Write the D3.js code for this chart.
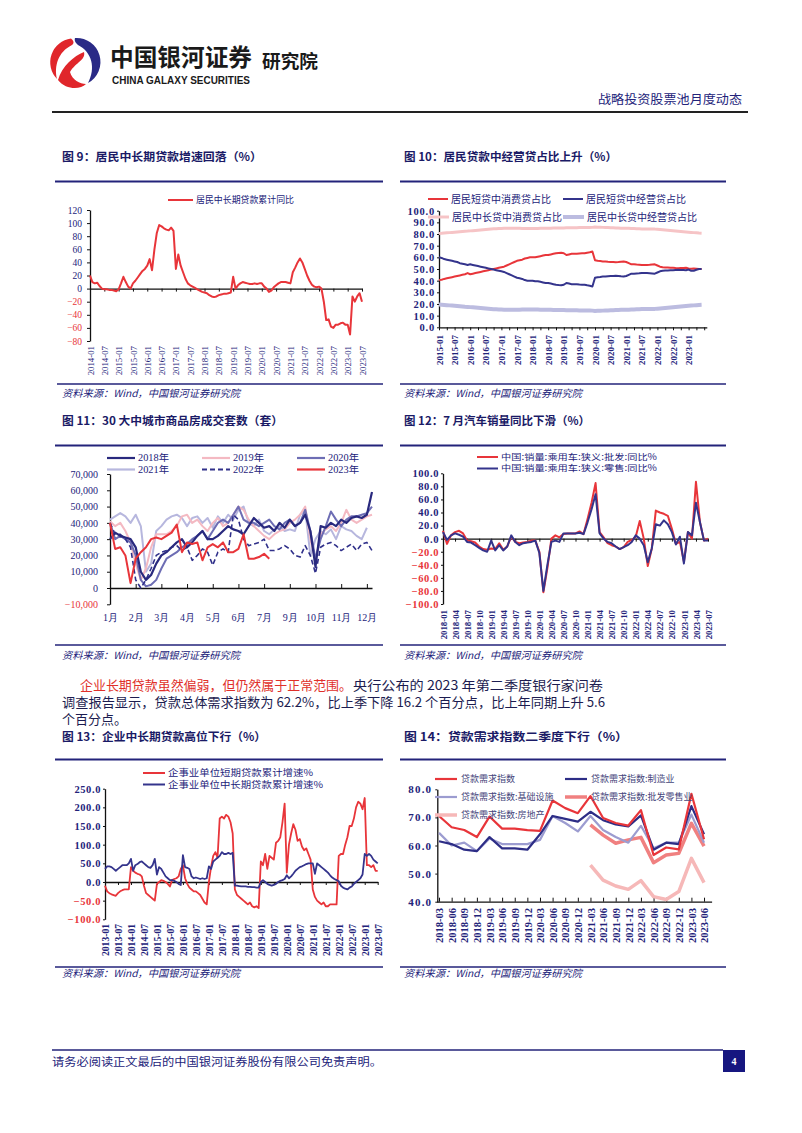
<!DOCTYPE html>
<html><head><meta charset="utf-8">
<script src="https://cdn.jsdelivr.net/npm/d3@7"></script>
<style>body{margin:0;background:#fff}svg{display:block}</style>
</head><body>
<svg id="page" width="802" height="1133"></svg>
<script>
// ---------------- DATA ----------------
// Fig 9: 居民中长期贷款累计同比, monthly 2014-01..2023-07
const c9Labels = ["2014-01","2014-07","2015-01","2015-07","2016-01","2016-07","2017-01","2017-07","2018-01","2018-07","2019-01","2019-07","2020-01","2020-07","2021-01","2021-07","2022-01","2022-07","2023-01","2023-07"];
const c9Values = [20,10,8,9,4,0,-1,-1,-2,-2,-3,-4,
  -1,8,18,10,3,0,8,12,17,22,27,30,
  35,45,28,60,85,97,95,92,90,89,93,88,
  30,52,35,25,15,8,5,3,1,-1,-3,-5,
  -6,-7,-10,-12,-13,-12,-10,-9,-8,-8,-7,-6,
  18,0,5,8,10,9,8,7,7,8,7,8,
  8,3,0,-5,-3,2,5,8,10,10,10,9,
  8,25,32,40,46,40,30,20,12,6,3,2,
  3,0,-20,-48,-47,-58,-60,-55,-55,-53,-52,-55,
  -55,-70,-12,-20,-12,-7,-20];
const c9Y = [-80,-60,-40,-20,0,20,40,60,80,100,120];

// Fig 10: monthly 2015-01..2023-06
const c10Labels = ["2015-01","2015-07","2016-01","2016-07","2017-01","2017-07","2018-01","2018-07","2019-01","2019-07","2020-01","2020-07","2021-01","2021-07","2022-01","2022-07","2023-01"];
const c10ShortConsumer = [40.5,40.8,41.5,42,42.5,43,43.5,44,44.5,45,45.5,46.5,
  45.5,46,46.5,47,47.5,48,48.5,49,49.5,50,50.5,51,
  51.5,52,53,54,55,56,57,57.5,58,59,59.5,60,
  60,60,60.5,61,61.5,62,62,62.5,63,63.5,63.8,64,
  63.5,62,62.5,63,63,63,63.3,63.5,63.5,64,64.3,65,
  57.5,57,56.8,56.5,56.5,56.2,56,56,55.8,56,56.3,56.5,
  56,55,54,54,53.8,53.7,53.5,53.5,53.5,53.6,53.8,54,
  53,52,51.5,51.3,51.2,51,51,50.8,50.7,50.8,50.8,51,
  50.5,50.3,50.5,50.3,50,50];
const c10ShortBusiness = [60,59.5,58.5,58,57.5,57,56.5,56,55,54.5,54,53.5,
  54,53.5,53,52.5,52,51.5,51,50.5,50,49.5,49,48.5,
  48,47.5,46.5,45.5,44.5,43.5,42.5,42,41.5,40.5,40,40,
  40,39.5,39.5,39,38.5,38,38,37.5,37,36.5,36.2,36,
  36.5,38,37.5,37,37,37,36.7,36.5,36.5,36,35.7,35,
  42.5,43,43.2,43.5,43.5,43.8,44,44,44.2,44,43.7,43.5,
  44,45,46,46,46.2,46.3,46.5,46.5,46.5,46.4,46.2,46,
  47,48,48.5,48.7,48.8,49,49,49.2,49.3,49.2,49.2,49,
  49.5,48.5,48.5,49.3,50,50];
const c10LongConsumer = [80.5,80.6,80.8,81,81.2,81.4,81.6,81.8,82,82.2,82.4,82.5,
  82.7,82.9,83.1,83.3,83.5,83.7,83.9,84.1,84.3,84.5,84.6,84.7,
  84.8,84.9,85,85,85,85,84.9,84.9,84.8,84.8,84.8,84.8,
  84.8,84.8,84.8,84.9,84.9,85,85,85,85.1,85.1,85.2,85.2,
  85.2,85.3,85.3,85.3,85.4,85.4,85.5,85.5,85.5,85.6,85.6,85.7,
  86,85.9,85.8,85.7,85.6,85.5,85.4,85.3,85.2,85.1,85,85,
  85,84.9,84.8,84.7,84.6,84.5,84.4,84.4,84.3,84.3,84.2,84.2,
  84,83.8,83.6,83.4,83.2,83,82.8,82.6,82.4,82.2,82,81.8,
  81.6,81.4,81.2,81,80.8,80.7];
const c10LongBusiness = [19.5,19.4,19.2,19,18.8,18.6,18.4,18.2,18,17.8,17.6,17.5,
  17.3,17.1,16.9,16.7,16.5,16.3,16.1,15.9,15.7,15.5,15.4,15.3,
  15.2,15.1,15,15,15,15,15.1,15.1,15.2,15.2,15.2,15.2,
  15.2,15.2,15.2,15.1,15.1,15,15,15,14.9,14.9,14.8,14.8,
  14.8,14.7,14.7,14.7,14.6,14.6,14.5,14.5,14.5,14.4,14.4,14.3,
  14,14.1,14.2,14.3,14.4,14.5,14.6,14.7,14.8,14.9,15,15,
  15,15.1,15.2,15.3,15.4,15.5,15.6,15.6,15.7,15.7,15.8,15.8,
  16,16.2,16.4,16.6,16.8,17,17.2,17.4,17.6,17.8,18,18.2,
  18.4,18.6,18.8,19,19.2,19.3];
const c10Y = [0,10,20,30,40,50,60,70,80,90,100];

// Fig 11: weekly, thousands of units
const c11Labels = ["1月","2月","3月","4月","5月","6月","7月","9月","10月","11月","12月"];
const c11Unit = 1000;
const c11Y2018 = [30,34,32,31,30,25,10,5,8,15,20,22,25,28,30,25,28,32,35,30,30,32,35,38,36,35,33,38,43,40,37,38,35,40,37,42,38,40,45,35,13,38,37,40,38,42,40,43,44,43,45,59];
const c11Y2019 = [41,38,40,35,28,15,5,12,25,33,33,33,35,38,44,45,40,42,38,35,40,43,38,40,45,50,48,42,38,35,32,30,33,35,36,40,42,45,50,30,17,33,36,38,35,40,48,42,40,42,44,45];
const c11Y2020 = [40,30,32,30,28,20,5,1,2,5,12,18,20,22,25,27,30,32,35,30,35,40,42,40,45,50,42,40,40,38,40,42,38,36,40,42,38,40,48,35,18,30,38,47,42,38,42,44,44,45,46,50];
const c11Y2021 = [42,44,46,44,40,45,38,10,15,35,38,42,44,45,43,38,43,44,40,43,37,44,40,45,42,48,50,40,38,42,35,33,36,38,35,36,35,45,48,20,30,35,33,36,30,38,36,35,32,30,37];
const c11Y2022 = [40,33,33,30,25,5,0,5,12,20,22,23,25,26,23,25,17,20,24,22,14,22,24,22,45,42,30,26,27,28,30,23,23,24,26,24,20,19,26,20,9,25,27,28,26,23,25,27,23,27,28,23];
const c11Y2023 = [40,24,25,20,3,18,22,25,30,31,30,32,34,39,22,28,27,28,17,25,27,25,28,22,22,24,33,18,18,19,21,18];
const c11Y = [-10,0,10,20,30,40,50,60,70];

// Fig 12: monthly 2018-01..2023-07
const c12Labels = ["2018-01","2018-04","2018-07","2018-10","2019-01","2019-04","2019-07","2019-10","2020-01","2020-04","2020-07","2020-10","2021-01","2021-04","2021-07","2021-10","2022-01","2022-04","2022-07","2022-10","2023-01","2023-04","2023-07"];
const c12Wholesale = [12,-8,5,10,12,8,-3,-4,-6,-12,-16,-17,
  -15,-16,-7,-17,-12,3,-5,-7,-6,-5,-3,-3,
  -20,-82,-45,0,5,2,7,8,8,8,11,7,
  30,55,85,10,2,-7,-10,-12,-16,-13,-5,-2,
  3,27,0,-42,-15,43,40,38,35,15,-8,-5,
  -35,10,0,87,25,-3,0];
const c12Retail = [10,-2,5,8,6,3,-5,-6,-10,-14,-18,-20,
  -3,-18,-10,-18,-12,5,-5,-10,-7,-6,-5,-3,
  -22,-80,-40,-5,-3,-5,8,8,8,8,9,7,
  25,45,68,8,0,-5,-7,-12,-16,-13,-10,-5,
  5,0,-10,-36,-15,22,20,28,22,10,-9,3,
  -38,10,5,55,25,-3,-3];
const c12Y = [-100,-80,-60,-40,-20,0,20,40,60,80,100];

// Fig 13: monthly 2013-01..2023-07
const c13Labels = ["2013-01","2013-07","2014-01","2014-07","2015-01","2015-07","2016-01","2016-07","2017-01","2017-07","2018-01","2018-07","2019-01","2019-07","2020-01","2020-07","2021-01","2021-07","2022-01","2022-07","2023-01","2023-07"];
const c13Short = [-10,-25,-30,-33,-35,-37,-30,-25,-22,-20,-20,-20,
  40,30,25,22,20,15,-10,-30,-35,-40,-45,-50,
  -5,0,5,3,0,-5,-12,5,8,10,15,35,
  45,10,-5,-15,-20,-25,-25,-30,-35,-45,-55,-60,
  0,40,70,80,65,170,175,170,180,175,160,130,
  -20,-35,-40,-45,-50,-55,-60,-55,-65,-68,-65,-70,
  55,45,75,35,70,65,60,105,110,120,160,210,
  25,100,130,155,140,110,115,95,85,90,75,60,
  -20,-40,-50,-55,-60,-55,-65,-65,-60,-60,-60,-60,
  70,75,75,100,120,150,150,170,200,215,210,195,
  225,45,45,40,45,30,30];
const c13Long = [35,42,42,40,35,30,35,40,45,45,45,50,
  62,30,45,48,53,55,50,45,40,38,45,62,
  20,40,35,25,15,10,5,5,3,0,-5,-8,
  72,40,38,35,15,10,12,10,8,10,8,10,
  42,35,55,60,65,70,80,75,75,78,75,78,
  -10,-10,-11,-12,-12,-12,-13,-13,-14,-14,-15,-15,
  0,5,0,-5,-8,-10,-8,-5,0,3,5,8,
  18,10,15,22,30,35,40,42,45,48,50,50,
  50,22,50,45,40,35,30,25,18,12,8,5,
  2,-10,-15,-18,-20,-15,-12,-5,0,5,10,20,
  75,70,75,70,60,55,50];
const c13Y = [-100,-50,0,50,100,150,200,250];

// Fig 14: quarterly 2018-03..2023-06
const c14Labels = ["2018-03","2018-06","2018-09","2018-12","2019-03","2019-06","2019-09","2019-12","2020-03","2020-06","2020-09","2020-12","2021-03","2021-06","2021-09","2021-12","2022-03","2022-06","2022-09","2022-12","2023-03","2023-06"];
const c14Total = [70.5,66.5,65.5,63,70.3,66,66,65.5,65.2,76,73.3,71.5,77.6,69.8,68,67.1,72.6,56.6,59.3,58.6,78.4,62.2];
const c14Mfg = [61.5,60.5,58.5,58,63,59,59,58.5,64,70.5,69.5,68.5,72,69,67.5,66.8,70.7,58.5,61,60.5,74,64];
const c14Infra = [64.5,60,61,58,62.5,60.5,60.5,60.5,62,70.5,68,65,70.5,65.5,63,61,67,59,61,61,71,61];
const c14Retail = [67.3,63.7,60.8,62,62.9,53.9,56.6,57.2,67.9,59.8];   // from 2021-03
const c14RealEstate = [53,47.7,45.6,44.4,47.5,41.8,40.8,43.6,55.4,46.8]; // from 2021-03
const c14Y = [40,50,60,70,80];

// ---------------- STYLE ----------------
const NAVY = "#23237a", RED = "#e8353a", INK = "#111";
const SERIF = "'Liberation Serif','Times New Roman',serif";
const CJK = "'Noto Sans CJK SC','Noto Sans',sans-serif";
const svg = d3.select("#page");

// ---------------- HELPERS ----------------
function text(x, y, s, o = {}) {
  const t = svg.append("text").attr("x", x).attr("y", y).attr("dy", o.dy ?? "0.35em")
    .attr("font-family", o.ff || CJK).attr("font-size", o.fs || 12)
    .attr("font-weight", o.fw || "normal").attr("fill", o.fill || NAVY)
    .attr("text-anchor", o.anchor || "start").text(s);
  if (o.italic) t.attr("font-style", "italic");
  if (o.tl) t.attr("textLength", o.tl).attr("lengthAdjust", "spacingAndGlyphs");
  return t;
}
function hline(x1, x2, y, color, w) {
  svg.append("line").attr("x1", x1).attr("x2", x2).attr("y1", y).attr("y2", y)
    .attr("stroke", color).attr("stroke-width", w);
}
function yAxis(x0, y, ticks, fmt, o) {
  const g = svg.append("g").attr("transform", `translate(${x0},0)`)
    .call(d3.axisLeft(y).tickValues(ticks).tickFormat(fmt).tickSizeInner(o.tick ?? 3).tickSizeOuter(0).tickPadding(o.pad ?? 3));
  g.select(".domain").attr("stroke", INK).attr("stroke-width", 1.3);
  g.selectAll(".tick line").attr("stroke", INK);
  g.selectAll(".tick text").attr("font-family", SERIF).attr("font-size", o.fs)
    .attr("font-weight", o.fw || "normal").attr("letter-spacing", o.ls || 0)
    .attr("fill", d => (o.negRed && d < 0) ? RED : NAVY);
}
function xLine(x, yPos, ticks, tickLen) {
  const g = svg.append("g").attr("transform", `translate(0,${yPos})`)
    .call(d3.axisBottom(x).tickValues(ticks).tickFormat("").tickSizeInner(tickLen).tickSizeOuter(0));
  g.select(".domain").attr("stroke", INK).attr("stroke-width", 1.3);
  g.selectAll(".tick line").attr("stroke", INK);
}
function xLabels(x, yTop, idx, labels, fs, rotate, fw) {
  const g = svg.append("g").attr("transform", `translate(0,${yTop})`)
    .call(d3.axisBottom(x).tickValues(idx).tickFormat((d, i) => labels[i]).tickSize(0));
  g.select(".domain").remove();
  const t = g.selectAll(".tick text").attr("font-family", SERIF).attr("font-size", fs)
    .attr("font-weight", fw || "normal").attr("fill", NAVY);
  if (rotate) t.attr("transform", "rotate(-90)").attr("x", 0).attr("y", 0).attr("dy", "0.35em").attr("text-anchor", "end");
  else t.attr("y", 0).attr("dy", "0.35em");
}
function series(x, y, values, start, st) {
  const line = d3.line().x((d, i) => x(i + start)).y(d => y(d));
  svg.append("path").datum(values).attr("d", line).attr("fill", "none")
    .attr("stroke", st.color).attr("stroke-width", st.w || 2)
    .attr("stroke-dasharray", st.dash || null).attr("stroke-linejoin", "round");
}
function legend(x1, x2, y, label, st, to = {}) {
  svg.append("line").attr("x1", x1).attr("x2", x2).attr("y1", y).attr("y2", y)
    .attr("stroke", st.color).attr("stroke-width", st.lw || st.w || 2).attr("stroke-dasharray", st.dash || null);
  text(x2 + (to.gap ?? 3), y, label, { fs: to.fs || 9.5, ff: to.ff || CJK, fill: to.fill || NAVY, tl: to.tl });
}
const idxEvery = (n, step) => d3.range(n).map(i => i * step);

// ---------------- PAGE HEADER ----------------
svg.append("path").attr("fill", "#2a2a86")
  .attr("d", "M75 38 A24 24 0 0 1 88 83 C96 68 92 52 78 45 C76 43 74 41 75 38 Z");
svg.append("path").attr("fill", "#e0262b")
  .attr("d", "M71 38.5 A24 24 0 0 0 57 79 C54 66 58 52 72 45 C75 43 73 40 71 38.5 Z");
svg.append("path").attr("fill", "#e0262b")
  .attr("d", "M58 80 C66 90 80 90 86 84 C80 84 72 80 70 72 C76 62 86 60 84 52 C74 56 62 66 58 80 Z");
text(110, 58, "中国银河证券", { fs: 24, fw: "bold", fill: "#1a1a1a", tl: 142 });
text(112, 80, "CHINA GALAXY SECURITIES", { fs: 10, fw: "bold", ff: "'Liberation Sans',Arial,sans-serif", fill: "#1a1a1a", tl: 138 });
text(262, 62, "研究院", { fs: 18, fw: "bold", fill: "#1a1a1a", tl: 56 });
text(742, 100, "战略投资股票池月度动态", { fs: 12.5, fill: NAVY, anchor: "end", tl: 144 });
hline(52, 748, 112, "#222", 2);

// ---------------- SECTION TITLES / RULES ----------------
const SRC = "资料来源：Wind，中国银河证券研究院";
const TITLE_COLOR = "#1a1a66";
text(62, 157, "图 9：居民中长期贷款增速回落（%）", { fs: 11.5, fw: "bold", fill: TITLE_COLOR, tl: 200 });
text(404, 157, "图 10：居民贷款中经营贷占比上升（%）", { fs: 11.5, fw: "bold", fill: TITLE_COLOR, tl: 213 });
hline(55, 383, 181.5, NAVY, 1.8); hline(400, 726, 181.5, NAVY, 1.8);
hline(57, 383, 384, NAVY, 1.5); hline(400, 726, 384, NAVY, 1.5);
text(62, 393, SRC, { fs: 10, italic: true, tl: 178 });
text(404, 393, SRC, { fs: 10, italic: true, tl: 178 });

text(62, 421, "图 11：30 大中城市商品房成交套数（套）", { fs: 11.5, fw: "bold", fill: TITLE_COLOR, tl: 221 });
text(404, 421, "图 12：7 月汽车销量同比下滑（%）", { fs: 11.5, fw: "bold", fill: TITLE_COLOR, tl: 186 });
hline(55, 383, 445.5, NAVY, 1.8); hline(400, 726, 445.5, NAVY, 1.8);
hline(55, 383, 645, NAVY, 1.5); hline(400, 726, 645, NAVY, 1.5);
text(62, 655, SRC, { fs: 10, italic: true, tl: 178 });
text(404, 655, SRC, { fs: 10, italic: true, tl: 178 });

// paragraph
text(80, 685, "企业长期贷款虽然偏弱，但仍然属于正常范围。", { fs: 13, fill: "#e0302a", tl: 272 });
text(353, 685, "央行公布的 2023 年第二季度银行家问卷", { fs: 13, fill: "#1c1c50", tl: 250 });
text(62, 702, "调查报告显示，贷款总体需求指数为 62.2%，比上季下降 16.2 个百分点，比上年同期上升 5.6", { fs: 13, fill: "#1c1c50", tl: 543 });
text(62, 719, "个百分点。", { fs: 13, fill: "#1c1c50", tl: 65 });

text(62, 737, "图 13：企业中长期贷款高位下行（%）", { fs: 11.5, fw: "bold", fill: TITLE_COLOR, tl: 204 });
text(404, 737, "图 14：贷款需求指数二季度下行（%）", { fs: 11.5, fw: "bold", fill: TITLE_COLOR, tl: 224 });
hline(55, 383, 759.5, NAVY, 1.8); hline(400, 726, 759.5, NAVY, 1.8);
hline(55, 383, 967, NAVY, 1.5); hline(400, 726, 967, NAVY, 1.5);
text(62, 973, SRC, { fs: 10, italic: true, tl: 178 });
text(404, 973, SRC, { fs: 10, italic: true, tl: 178 });

// footer
hline(52, 723, 1050, NAVY, 1.5);
text(52, 1062, "请务必阅读正文最后的中国银河证券股份有限公司免责声明。", { fs: 11, fill: NAVY, tl: 330 });
svg.append("rect").attr("x", 723).attr("y", 1050).attr("width", 22).attr("height", 22).attr("fill", "#161680");
text(734, 1061, "4", { fs: 10, fw: "bold", fill: "#fff", anchor: "middle", ff: SERIF });

// ---------------- FIG 9 ----------------
{
  const x = d3.scaleLinear().domain([0, 114]).range([90, 362]);
  const y = d3.scaleLinear().domain([-80, 120]).range([341, 210]);
  xLine(x, y(0), idxEvery(20, 6), 3);
  yAxis(90, y, c9Y, d3.format("d"), { fs: 9.5, pad: 5, negRed: true });
  xLabels(x, 346, idxEvery(20, 6), c9Labels, 8.8, true);
  series(x, y, c9Values, 0, { color: RED, w: 2 });
  legend(168, 193, 200, "居民中长期贷款累计同比", { color: RED, w: 2 }, { tl: 98 });
}

// ---------------- FIG 10 ----------------
{
  const x = d3.scaleLinear().domain([0, 103]).range([439, 706.8]);
  const y = d3.scaleLinear().domain([0, 100]).range([327.3, 210.7]);
  xLine(x, y(0), idxEvery(35, 3), 3);
  yAxis(439, y, c10Y, d3.format(".1f"), { fs: 10.5, fw: "bold", ls: 0.8, pad: 2, tick: 2 });
  xLabels(x, 335, idxEvery(17, 6), c10Labels, 9, true, "bold");
  series(x, y, c10LongConsumer, 0, { color: "#f6c4c6", w: 3 });
  series(x, y, c10LongBusiness, 0, { color: "#bcbce0", w: 4 });
  series(x, y, c10ShortConsumer, 0, { color: RED, w: 2 });
  series(x, y, c10ShortBusiness, 0, { color: "#34348c", w: 2 });
  legend(428, 448, 199, "居民短贷中消费贷占比", { color: RED, w: 2 }, { tl: 100, fs: 10 });
  legend(563, 583, 199, "居民短贷中经营贷占比", { color: "#34348c", w: 2 }, { tl: 100, fs: 10 });
  legend(428, 449, 217, "居民中长贷中消费贷占比", { color: "#f6c4c6", w: 3 }, { tl: 110, fs: 10 });
  legend(563, 584, 217, "居民中长贷中经营贷占比", { color: "#bcbce0", w: 4 }, { tl: 110, fs: 10 });
}

// ---------------- FIG 11 ----------------
{
  const x = d3.scaleLinear().domain([0, 51]).range([110, 372]);
  const y = d3.scaleLinear().domain([-10, 70]).range([604.3, 474]);
  xLine(x, y(0), idxEvery(11, 5), -4);
  yAxis(110, y, c11Y, d => d3.format(",")(d * c11Unit), { fs: 10, pad: 9, negRed: true });
  xLabels(x, 617, idxEvery(11, 5), c11Labels, 10, false);
  const st = [
    { v: c11Y2021, color: "#b7b7de", w: 2, name: "2021年" },
    { v: c11Y2019, color: "#f4b9c2", w: 2, name: "2019年" },
    { v: c11Y2020, color: "#6d6db4", w: 2, name: "2020年" },
    { v: c11Y2022, color: "#30308a", w: 1.6, dash: "5,3", name: "2022年" },
    { v: c11Y2018, color: "#29297e", w: 2.2, name: "2018年" },
    { v: c11Y2023, color: RED, w: 2, name: "2023年" }
  ];
  st.forEach(s => series(x, y, s.v, 0, s));
  const cols = [107, 202, 297];
  const order = [4, 1, 2, 0, 3, 5];
  order.forEach((k, j) => {
    const s = st[k];
    const c = cols[j % 3], ry = j < 3 ? 458 : 469.5;
    legend(c, c + 28, ry, s.name, { color: s.color, w: 2.2, dash: s.dash }, { fs: 9.5, ff: SERIF + ",'Noto Sans CJK SC'", tl: 31 });
  });
}

// ---------------- FIG 12 ----------------
{
  const x = d3.scaleLinear().domain([0, 66]).range([443, 708]);
  const y = d3.scaleLinear().domain([-100, 100]).range([604, 473.3]);
  xLine(x, y(0), idxEvery(23, 3), 3);
  yAxis(443, y, c12Y, d3.format(".1f"), { fs: 10.5, fw: "bold", ls: 0.6, pad: 2, tick: 2, negRed: true });
  xLabels(x, 610, idxEvery(23, 3), c12Labels, 8.8, true, "bold");
  series(x, y, c12Wholesale, 0, { color: RED, w: 2 });
  series(x, y, c12Retail, 0, { color: "#34348c", w: 2 });
  legend(477, 498, 457, "中国:销量:乘用车:狭义:批发:同比%", { color: RED, w: 2 }, { fs: 8.5, tl: 156 });
  legend(477, 498, 468.5, "中国:销量:乘用车:狭义:零售:同比%", { color: "#34348c", w: 2 }, { fs: 8.5, tl: 156 });
}

// ---------------- FIG 13 ----------------
{
  const x = d3.scaleLinear().domain([0, 126]).range([105, 377.7]);
  const y = d3.scaleLinear().domain([-100, 250]).range([919.3, 788.7]);
  xLine(x, y(0), idxEvery(22, 6), 3);
  yAxis(105, y, c13Y, d3.format(".1f"), { fs: 10.5, fw: "bold", ls: 0.6, pad: 2, tick: 2, negRed: true });
  xLabels(x, 924, idxEvery(22, 6), c13Labels, 9.6, true, "bold");
  series(x, y, c13Short, 0, { color: RED, w: 1.8 });
  series(x, y, c13Long, 0, { color: "#34348c", w: 1.8 });
  legend(143, 165, 773, "企事业单位短期贷款累计增速%", { color: RED, w: 2 }, { fs: 9, tl: 145 });
  legend(143, 165, 784.5, "企事业单位中长期贷款累计增速%", { color: "#34348c", w: 2 }, { fs: 9, tl: 155 });
}

// ---------------- FIG 14 ----------------
{
  const x = d3.scaleLinear().domain([-0.2, 21.6]).range([436.5, 711.6]);
  const y = d3.scaleLinear().domain([40, 80]).range([901.7, 789.3]);
  xLine(x, y(40), d3.range(22), -4);
  yAxis(437.3, y, c14Y, d3.format(".1f"), { fs: 11, fw: "bold", ls: 1.2, pad: 3, tick: 2 });
  xLabels(x, 908, d3.range(22), c14Labels, 10.5, true, "bold");
  const LG = "#44447a";
  series(x, y, c14RealEstate, 12, { color: "#f6b8b8", w: 3.5 });
  series(x, y, c14Retail, 12, { color: "#f08080", w: 3.5 });
  series(x, y, c14Infra, 0, { color: "#9c9cd0", w: 2.2 });
  series(x, y, c14Mfg, 0, { color: "#2d2d86", w: 2.2 });
  series(x, y, c14Total, 0, { color: RED, w: 2.2 });
  legend(435, 457, 779, "贷款需求指数", { color: RED, w: 2.2 }, { fs: 9, fill: LG, gap: 4 });
  legend(565, 587, 779, "贷款需求指数:制造业", { color: "#2d2d86", w: 2.2 }, { fs: 9, fill: LG, gap: 4 });
  legend(435, 457, 797, "贷款需求指数:基础设施", { color: "#9c9cd0", w: 2.2 }, { fs: 9, fill: LG, gap: 4 });
  legend(565, 587, 797, "贷款需求指数:批发零售业", { color: "#f08080", w: 3.5 }, { fs: 9, fill: LG, gap: 4 });
  legend(435, 457, 815, "贷款需求指数:房地产", { color: "#f6b8b8", w: 3.5 }, { fs: 9, fill: LG, gap: 4 });
}
</script>
</body></html>
